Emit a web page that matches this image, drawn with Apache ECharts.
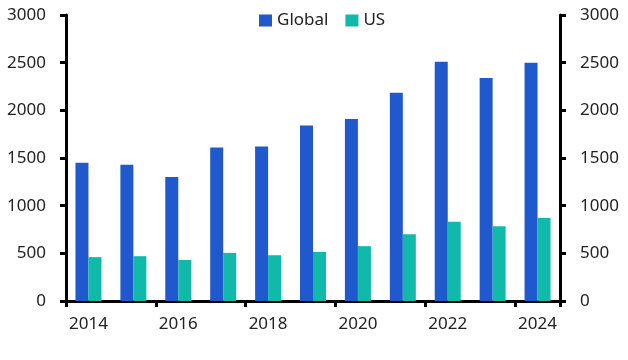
<!DOCTYPE html>
<html><head><meta charset="utf-8">
<script src="https://cdn.jsdelivr.net/npm/echarts@6/dist/echarts.min.js"></script>
<style>html,body{margin:0;padding:0;background:#fff}#c{width:628px;height:360px}</style>
</head><body><div id="c"></div>
<script>
var categories = ['2014','2015','2016','2017','2018','2019','2020','2021','2022','2023','2024'];
var globalValues = [1450, 1430, 1300, 1610, 1620, 1840, 1910, 2185, 2510, 2340, 2500];
var usValues = [460, 470, 430, 505, 480, 515, 575, 700, 830, 785, 870];
var seriesNames = ['Global', 'US'];

var font = 'Noto Sans';
var chart = echarts.init(document.getElementById('c'), null, {renderer: 'canvas'});
function yAxis(pos) {
  return {
    type: 'value', position: pos, min: 0, max: 3000, interval: 500,
    axisLine: {show: true, lineStyle: {color: '#000', width: 3}},
    axisTick: {show: true, length: 6, lineStyle: {color: '#000', width: 3}},
    splitLine: {show: false},
    axisLabel: {margin: 20, color: '#222', fontSize: 17, fontFamily: font,
      formatter: function (v) { return String(v); }}
  };
}
chart.setOption({
  animation: false,
  grid: {left: 66, right: 68, top: 15, bottom: 59, containLabel: false},
  legend: {
    top: 7, left: 254, itemWidth: 13, itemHeight: 12, itemGap: 17,
    icon: 'rect',
    textStyle: {fontSize: 17, color: '#222', fontFamily: font},
    data: seriesNames
  },
  xAxis: {
    type: 'category', data: categories, boundaryGap: true,
    axisLine: {lineStyle: {color: '#000', width: 3}},
    axisTick: {show: true, interval: 1, length: 6, lineStyle: {color: '#000', width: 3}},
    axisLabel: {interval: 1, margin: 15, color: '#222', fontSize: 17, fontFamily: font}
  },
  yAxis: [yAxis('left'), yAxis('right')],
  series: [
    {name: seriesNames[0], type: 'bar', data: globalValues, barWidth: 13, barGap: '0%', itemStyle: {color: '#2059cd'}},
    {name: seriesNames[1], type: 'bar', data: usValues, barWidth: 13, barGap: '0%', itemStyle: {color: '#10b9aa'}}
  ]
});
</script></body></html>
